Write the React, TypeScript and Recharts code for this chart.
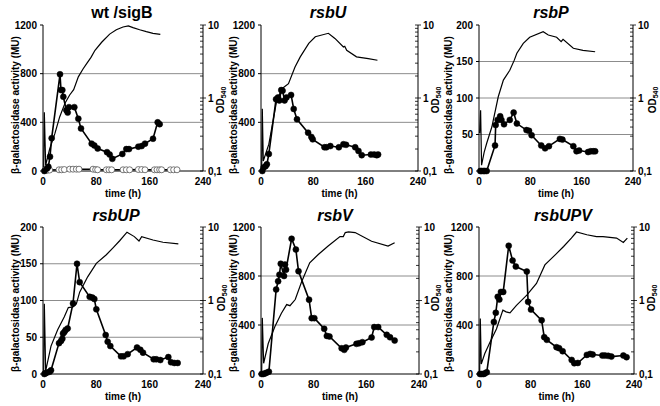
import React from 'react';
import { ComposedChart, Line, XAxis, YAxis, ReferenceLine } from 'recharts';

const FONT = 'Arial, "Liberation Sans", sans-serif';

const timeTicks = [0, 80, 160, 240];
const muTicks1200 = [0, 400, 800, 1200];
const muTicks200 = [0, 50, 100, 150, 200];
const odTicks = [0.1, 0.2, 0.3, 0.4, 0.5, 0.6, 0.7, 0.8, 0.9, 1, 2, 3, 4, 5, 6, 7, 8, 9, 10];
const odMajor = [0.1, 1, 10];

// wt /sigB
const wtTime = [2, 6, 8, 10.5, 13, 25.5, 27, 29, 30.5, 35, 37, 39, 47, 53, 57, 73, 77, 82, 96, 100, 104, 119, 125, 129, 143, 148, 153, 165, 172, 175];
const wtMU = [0, 20, 35, 118, 270, 795, 665, 665, 610, 500, 480, 525, 525, 430, 350, 225, 210, 185, 155, 135, 100, 140, 180, 180, 200, 205, 225, 265, 400, 385];
const sigBTime = [3, 6, 10, 24, 28, 32, 40, 45, 50, 54, 75, 79, 82, 95, 99, 103, 120, 125, 130, 143, 148, 153, 167, 171, 175, 178, 191, 196, 201];
const sigBMU = [5, 5, 8, 10, 10, 12, 15, 15, 15, 15, 15, 12, 10, 10, 10, 10, 10, 10, 10, 12, 12, 10, 10, 10, 10, 10, 10, 10, 10];
const wtOdTime = [1, 2, 4, 10, 18, 25, 33, 40, 46, 53, 60, 66, 72, 78, 88, 100, 110, 120, 128, 135, 145, 155, 165, 176];
const wtOD = [0.1, 0.64, 0.12, 0.2, 0.33, 0.55, 0.85, 1.1, 1.3, 1.95, 2.5, 3.0, 3.6, 4.5, 5.8, 7.5, 8.6, 9.4, 9.7, 9.2, 8.6, 8.1, 7.7, 7.45];

// rsbU
const uTime = [2, 4, 7, 9, 12, 23, 26, 28, 31, 33, 36, 39, 46, 50, 55, 72, 77, 79, 97, 100, 106, 119, 126, 130, 144, 149, 154, 168, 173, 177, 179];
const uMU = [0, 28, 40, 55, 140, 590, 605, 580, 665, 660, 580, 605, 625, 510, 425, 315, 280, 260, 195, 195, 205, 195, 220, 215, 195, 165, 130, 135, 135, 130, 135];
const uOdTime = [1, 2, 3.5, 12, 24, 32, 42, 52, 60, 73, 83, 103, 113, 126, 128, 131, 146, 164, 178];
const uOD = [0.1, 0.71, 0.137, 0.233, 0.92, 1.34, 1.57, 2.66, 3.66, 5.6, 6.9, 7.7, 6.55, 5.0, 5.1, 4.5, 3.66, 3.47, 3.29];

// rsbP
const pTime = [2, 4, 7, 9, 12, 25, 26, 29, 33, 35, 39, 48, 54, 59, 74, 78, 82, 97, 103, 109, 126, 130, 147, 152, 156, 170, 174, 178, 181];
const pMU = [0, 0, 0, 0, 0, 35, 63, 70, 75, 70, 64, 70, 80, 65, 56, 55, 49, 35, 31, 34, 44, 43, 34, 27, 28, 26, 27, 27, 27];
const pOdTime = [1, 2.5, 4, 8, 12, 20, 30, 38, 48, 55, 59, 69, 79, 100, 108, 121, 128, 131, 147, 162, 181];
const pOD = [0.33, 0.68, 0.12, 0.18, 0.24, 0.4, 1.04, 1.76, 2.4, 3.3, 4.1, 5.6, 6.8, 8.1, 7.3, 6.8, 5.9, 6.35, 4.8, 4.5, 4.3];

// rsbUP
const upTime = [2, 4, 6, 10, 12, 24, 27, 29, 30, 32, 34, 37, 45, 51, 55, 70, 74, 77, 80, 94, 97, 101, 117, 121, 127, 141, 146, 150, 166, 170, 176, 188, 192, 197, 202];
const upMU = [0, 1, 2, 3, 5, 42, 45, 48, 55, 57, 60, 62, 96, 150, 125, 105, 104, 102, 88, 53, 44, 38, 24, 24, 27, 36, 33, 29, 20, 20, 19, 23, 16, 15, 15];
const upOdTime = [1, 2, 4, 12, 22, 32, 38, 45, 50, 55, 67, 80, 95, 105, 115, 126, 137, 144, 148, 165, 180, 203];
const upOD = [0.1, 0.9, 0.11, 0.24, 0.4, 0.6, 0.8, 0.82, 0.9, 1.3, 2.1, 3.2, 4.2, 5.2, 6.5, 8.5, 7.4, 6.45, 7.4, 6.65, 6.2, 5.9];

// rsbV
const vTime = [1, 3.5, 6, 8.5, 12, 23, 26, 28, 30, 35, 36.5, 38, 46.5, 53, 57, 73, 77, 81, 96, 100, 104, 122.5, 126.5, 129, 145, 149, 154, 168, 172, 178, 191, 196, 203];
const vMU = [0, 0, 5, 11, 19, 690, 757, 811, 900, 800, 893, 852, 1104, 1016, 839, 607, 456, 456, 369, 311, 306, 210, 197, 216, 246, 251, 260, 298, 383, 383, 320, 300, 273];
const vOdTime = [1, 2, 4, 11, 21, 31, 39, 44, 52, 62, 74, 87, 102, 120, 125, 128, 133, 143, 168, 193, 203];
const vOD = [0.1, 0.58, 0.14, 0.26, 0.44, 0.67, 0.88, 0.85, 1.03, 1.83, 3.26, 4.23, 5.5, 7.4, 7.4, 8.4, 8.6, 8.4, 6.4, 5.5, 6.1];

// rsbUPV
const upvTime = [1.5, 4, 7, 9, 12, 23, 26, 29, 31.5, 34, 37.5, 46, 52, 57, 74, 76, 80.5, 97, 101, 105, 120, 124, 129.5, 143.5, 147.5, 153, 167, 172, 176, 191, 195, 200, 205, 223.5, 228.5];
const upvMU = [0, 0, 0, 5, 14, 425, 500, 630, 608, 670, 670, 1047, 926, 877, 836, 589, 526, 438, 301, 279, 219, 211, 186, 115, 88, 90, 156, 164, 159, 151, 151, 148, 142, 151, 137];
const upvOdTime = [1, 2, 3.5, 9, 17, 27, 37, 42, 48, 58, 74, 89, 102, 118, 131, 143, 151, 167, 182, 192, 213, 223.5, 229.7];
const upvOD = [0.1, 0.57, 0.137, 0.19, 0.27, 0.41, 0.74, 0.7, 0.68, 0.86, 1.18, 1.71, 3.05, 4.18, 5.43, 7.07, 8.55, 7.85, 7.4, 7.4, 7.07, 6.17, 7.07];

const toRows = (t: number[], v: number[]) => t.map((x, i) => ({ t: x, v: v[i] }));

const panels = [
  { title: 'wt /sigB', italic: false, x: 43, y: 25, w: 160, h: 146, tx: 122, ty: 13, muX: 15, odX: 221, labY: 105, muTicks: muTicks1200, mu: toRows(wtTime, wtMU), od: toRows(wtOdTime, wtOD), open: toRows(sigBTime, sigBMU) },
  { title: 'rsbU', italic: true, x: 261, y: 25, w: 157, h: 146, tx: 328, ty: 13, muX: 233, odX: 436, labY: 105, muTicks: muTicks1200, mu: toRows(uTime, uMU), od: toRows(uOdTime, uOD) },
  { title: 'rsbP', italic: true, x: 479, y: 25, w: 154, h: 146, tx: 551, ty: 13, muX: 448, odX: 653, labY: 105, muTicks: muTicks200, mu: toRows(pTime, pMU), od: toRows(pOdTime, pOD) },
  { title: 'rsbUP', italic: true, x: 43, y: 227, w: 160, h: 147, tx: 116, ty: 216, muX: 15, odX: 222, labY: 303, muTicks: muTicks200, mu: toRows(upTime, upMU), od: toRows(upOdTime, upOD) },
  { title: 'rsbV', italic: true, x: 261, y: 227, w: 158, h: 147, tx: 335, ty: 216, muX: 233, odX: 436, labY: 303, muTicks: muTicks1200, mu: toRows(vTime, vMU), od: toRows(vOdTime, vOD) },
  { title: 'rsbUPV', italic: true, x: 479, y: 227, w: 155, h: 147, tx: 563, ty: 216, muX: 448, odX: 652, labY: 303, muTicks: muTicks1200, mu: toRows(upvTime, upvMU), od: toRows(upvOdTime, upvOD) },
];

const tickFont = { fontSize: 10, fontWeight: 700, fill: '#000', fontFamily: FONT };

const OdTick = (props: any) => {
  const { x, y, payload } = props;
  const v = payload.value;
  const ax = x - 5;
  const major = odMajor.includes(v);
  return (
    <g>
      <line x1={ax - 3} x2={major ? ax + 3 : ax} y1={y} y2={y} stroke="#000" strokeWidth={0.8} />
      {major && (
        <text x={ax + 5} y={y} dy="0.35em" textAnchor="start" {...tickFont}>
          {v === 0.1 ? '0,1' : String(v)}
        </text>
      )}
    </g>
  );
};

const AX = 36;
const TOP = 10;
const XH = 30;

function Panel({ p }: { p: any }) {
  const grid = p.muTicks.slice(1, -1);
  const muMax = p.muTicks[p.muTicks.length - 1];
  return (
    <>
      <div style={{ position: 'absolute', left: p.x - AX, top: p.y - TOP }}>
        <ComposedChart width={p.w + 2 * AX} height={p.h + TOP + XH} margin={{ top: TOP, right: 0, bottom: 0, left: 0 }}>
          <XAxis type="number" dataKey="t" domain={[0, 240]} ticks={timeTicks} interval={0} height={XH}
            tick={tickFont} tickSize={0} tickMargin={7} axisLine={{ stroke: '#000' }} allowDuplicatedCategory={false} />
          <YAxis yAxisId="mu" type="number" domain={[0, muMax]} ticks={p.muTicks} interval={0} width={AX}
            tick={tickFont} tickSize={3} tickMargin={3} tickLine={{ stroke: '#000' }} axisLine={{ stroke: '#000' }} />
          <YAxis yAxisId="od" orientation="right" type="number" scale="log" domain={[0.1, 10]} allowDataOverflow
            ticks={odTicks} interval={0} width={AX} tick={<OdTick />} tickSize={0} tickMargin={5} tickLine={false}
            axisLine={{ stroke: '#000' }} />
          {grid.map((g: number) => (
            <ReferenceLine key={g} yAxisId="mu" y={g} stroke="#8c8c8c" strokeWidth={1} />
          ))}
          {p.open && (
            <Line yAxisId="mu" data={p.open} dataKey="v" type="linear" stroke="#000" strokeWidth={1.5}
              dot={{ r: 3, fill: '#fff', stroke: '#555', strokeWidth: 0.8 }} isAnimationActive={false} />
          )}
          <Line yAxisId="od" data={p.od} dataKey="v" type="linear" stroke="#000" strokeWidth={1.2}
            dot={false} isAnimationActive={false} />
          <Line yAxisId="mu" data={p.mu} dataKey="v" type="linear" stroke="#000" strokeWidth={1.6}
            dot={{ r: 3, fill: '#000', stroke: '#000', strokeWidth: 0.5 }} isAnimationActive={false} />
        </ComposedChart>
      </div>
      <div style={{ position: 'absolute', left: p.tx, top: p.ty, transform: 'translate(-50%, -50%)', fontSize: 16, fontWeight: 700, fontStyle: p.italic ? 'italic' : 'normal', whiteSpace: 'nowrap', fontFamily: FONT }}>
        {p.title}
      </div>
      <div style={{ position: 'absolute', left: p.muX, top: p.labY, transform: 'translate(-50%, -50%) rotate(-90deg)', fontSize: 10, fontWeight: 700, whiteSpace: 'nowrap', fontFamily: FONT }}>
        β-galactosidase activity (MU)
      </div>
      <div style={{ position: 'absolute', left: p.odX, top: p.labY - 5, transform: 'translate(-50%, -50%) rotate(-90deg)', fontSize: 10, fontWeight: 700, whiteSpace: 'nowrap', fontFamily: FONT }}>
        OD<span style={{ fontSize: 7, verticalAlign: '-2px' }}>540</span>
      </div>
      <div style={{ position: 'absolute', left: p.x + p.w / 2, top: p.y + p.h + 22, transform: 'translate(-50%, -50%)', fontSize: 10, fontWeight: 700, whiteSpace: 'nowrap', fontFamily: FONT }}>
        time (h)
      </div>
    </>
  );
}

export default function App() {
  return (
    <div style={{ position: 'absolute', left: 0, top: 0, width: 660, height: 406, background: '#fff', fontFamily: FONT }}>
      {panels.map((p) => (
        <Panel key={p.title} p={p} />
      ))}
    </div>
  );
}
